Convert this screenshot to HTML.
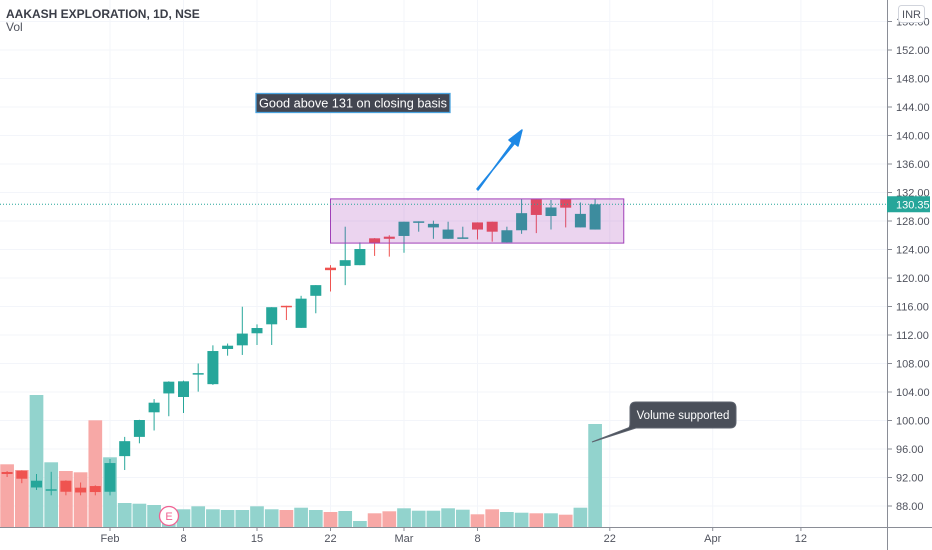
<!DOCTYPE html>
<html><head><meta charset="utf-8">
<style>
html,body{margin:0;padding:0;background:#fff;width:932px;height:550px;overflow:hidden;}
svg{display:block;font-family:"Liberation Sans",sans-serif;}
</style></head>
<body>
<svg id="chart" width="932" height="550" viewBox="0 0 932 550" xmlns="http://www.w3.org/2000/svg">
<rect width="932" height="550" fill="#fff"/>
<g id="grid"></g>
<g id="vols"></g>
<g id="candles"></g>
<g id="overlays"></g>
<g id="axes"></g>
</svg>
<script>
const dayIndex = [-7,-6,-5,-4,-3,-2,-1,0,1,2,3,4,5,6,7,8,9,10,11,12,13,14,15,16,17,18,19,20,21,22,23,24,25,26,27,28,29,30,31,32,33];
const opens  = [92.77,92.95,90.6,90.3,91.55,90.57,90.8,90.0,95.0,97.7,101.15,103.8,103.3,106.55,105.1,110.04,110.55,112.24,113.5,116.1,113.0,117.5,121.45,121.7,121.8,125.57,125.8,125.9,127.85,127.1,125.5,125.62,127.8,127.9,125.0,126.7,131.05,128.7,131.05,127.1,126.8];
const highs  = [92.9,93.0,92.5,92.8,91.6,91.3,90.9,94.6,97.7,100.1,103.0,105.5,105.6,108.0,110.55,110.8,115.97,113.5,115.9,116.1,117.5,119.0,121.8,127.2,125.0,125.6,126.0,127.9,127.95,128.05,127.9,127.2,127.8,127.9,127.2,131.05,131.05,130.95,131.05,130.6,131.05];
const lows   = [92.07,91.2,90.25,89.5,89.5,89.5,89.5,89.5,93.05,96.8,98.6,100.6,101.05,104.05,105.0,109.1,109.2,110.6,110.6,114.1,113.0,115.05,118.1,119.0,121.8,123.1,123.0,123.55,126.5,125.5,125.5,125.6,125.4,125.1,125.0,126.2,126.3,126.8,127.1,127.1,126.8];
const closes = [92.49,91.83,91.55,90.35,90.0,89.9,89.96,94.03,97.1,100.07,102.5,105.45,105.5,106.65,109.75,110.5,112.2,112.98,115.9,116.0,117.1,119.0,121.1,122.5,124.07,124.87,125.5,127.9,127.95,127.6,126.8,125.7,126.8,126.5,126.7,129.1,128.85,129.9,129.87,129.0,130.35];
const volumes = [62.7,57,132,64.7,56,54.7,106.7,69.7,24,23.3,22,18,17.7,20.7,17.7,17,17,20.7,17.7,17,19.3,17,15,16,6,13.7,15.7,18.7,16.3,16.3,18.7,17.3,12.7,17.7,15,14.3,13.7,13.7,12.3,19.3,103];
const priceTicks = [156,152,148,144,140,136,132,128,124,120,116,112,108,104,100,96,92,88];
const dateLabels = ["Feb","8","15","22","Mar","8","22","Apr","12"];
const dateIndex  = [0,5,10,15,20,25,34,41,47];
const boxRange = {i0:15, i1:34.95, top:131.1, bottom:124.9};
const lastPrice = 130.35;

const NS="http://www.w3.org/2000/svg";
const X0=110, SP=14.7, AXX=887, AXY=527;
const xScale = i => X0 + i*SP;
const yScale = p => 50 + (152-p)*7.125;
const vScale = v => AXY - v;
function mk(tag, attrs, parent){const e=document.createElementNS(NS,tag);for(const k in attrs)e.setAttribute(k,attrs[k]);parent.appendChild(e);return e;}
const grid=document.getElementById('grid'), vols=document.getElementById('vols'), cg=document.getElementById('candles'), ov=document.getElementById('overlays'), ax=document.getElementById('axes');

priceTicks.forEach(p=>{
  const l=mk('line',{x1:0,x2:AXX,y1:yScale(p),y2:yScale(p),stroke:'#f3f5fa','stroke-width':1},grid);
  
  
});
dateIndex.forEach(i=>{
  const l=mk('line',{x1:xScale(i),x2:xScale(i),y1:0,y2:AXY,stroke:'#f3f5fa','stroke-width':1},grid);
  
  
});

dayIndex.forEach((d,k)=>{
  const up = closes[k]>=opens[k];
  const x=xScale(d);
  const vb=mk('rect',{x:x-6.85,y:vScale(volumes[k]),width:13.7,height:AXY-vScale(volumes[k]),fill:up?'#92d3cd':'#f7a8a6'},vols);
  
  
  const col=up?'#26a69a':'#ef5350';
  const g=mk('g',{},cg);
  
  
  mk('line',{x1:x,x2:x,y1:yScale(highs[k]),y2:yScale(lows[k]),stroke:col,'stroke-width':1},g);
  const t=Math.min(yScale(opens[k]),yScale(closes[k]));
  const h=Math.max(1.5,Math.abs(yScale(opens[k])-yScale(closes[k])));
  mk('rect',{x:x-5.5,y:t,width:11,height:h,fill:col},g);
});

// earnings marker
const eg=mk('g',{},ov);


mk('circle',{cx:169,cy:516,r:9.5,fill:'#fff',stroke:'#f06292','stroke-width':1.3},eg);
const et=mk('text',{x:169,y:520,'text-anchor':'middle','font-size':11,fill:'#f06292'},eg);et.textContent='E';

// box
const bx=mk('rect',{x:xScale(boxRange.i0),y:yScale(boxRange.top),width:xScale(boxRange.i1)-xScale(boxRange.i0),height:yScale(boxRange.bottom)-yScale(boxRange.top),fill:'rgba(156,39,176,0.2)',stroke:'#a040b8','stroke-width':1},ov);



// last price line
const lp=mk('line',{x1:0,x2:AXX,y1:yScale(lastPrice),y2:yScale(lastPrice),stroke:'#26a69a','stroke-width':1,'stroke-dasharray':'1 2'},ov);



// text annotation
const ta=mk('g',{},ov);


mk('rect',{x:256,y:93.5,width:194,height:19,fill:'#434651',stroke:'#4aa3df','stroke-width':1.3},ta);
const tt=mk('text',{x:259,y:107.5,'font-size':12.5,fill:'#fff',textLength:188,lengthAdjust:'spacingAndGlyphs'},ta);tt.textContent='Good above 131 on closing basis';

// arrow
const ar=mk('polygon',{points:'477,189 514,144 509,140 522,130 518,146 513,142 478,190',fill:'#1e88e5',stroke:'#1e88e5','stroke-width':1.5,'stroke-linejoin':'round'},ov);



// callout
const cb=mk('g',{},ov);


mk('path',{d:'M636,402 H730 Q736,402 736,408 V422 Q736,428 730,428 H636 L592,442 L628,428 Q630,428 630,422 V408 Q630,402 636,402 Z',fill:'#4a4f59',stroke:'#5d636e','stroke-width':1},cb);
const ct=mk('text',{x:683,y:419,'text-anchor':'middle','font-size':11.5,fill:'#fff'},cb);ct.textContent='Volume supported';

// axes
const ya=mk('line',{x1:AXX+0.5,x2:AXX+0.5,y1:0,y2:550,stroke:'#8a8d96','stroke-width':1},ax);


const xa=mk('line',{x1:0,x2:932,y1:AXY+0.5,y2:AXY+0.5,stroke:'#8a8d96','stroke-width':1},ax);


priceTicks.forEach(p=>{
  const y=yScale(p);
  mk('line',{x1:AXX,x2:AXX+5,y1:y,y2:y,stroke:'#8a8d96'},ax);
  const t=mk('text',{x:896,y:y+4,'font-size':11,fill:'#50535e'},ax);
  
  
  t.textContent=p.toFixed(2);
});
dateLabels.forEach((s,k)=>{
  const x=xScale(dateIndex[k]);
  mk('line',{x1:x,x2:x,y1:AXY,y2:AXY+4,stroke:'#8a8d96'},ax);
  const t=mk('text',{x:x,y:542,'text-anchor':'middle','font-size':11,fill:'#50535e'},ax);
  
  
  t.textContent=s;
});
// last price badge
const lb=mk('g',{},ax);


mk('rect',{x:AXX,y:yScale(lastPrice)-8,width:43,height:16,fill:'#26a69a'},lb);
const lt=mk('text',{x:896,y:yScale(lastPrice)+4,'font-size':11,fill:'#fff'},lb);lt.textContent=lastPrice.toFixed(2);
// INR
const ib=mk('g',{},ax);


mk('rect',{x:898.5,y:5.5,width:26,height:17,rx:3,fill:'#fff',stroke:'#d1d4dc'},ib);
const it=mk('text',{x:911.5,y:18,'text-anchor':'middle','font-size':11,fill:'#50535e'},ib);it.textContent='INR';
// title
const ti=mk('text',{x:6,y:18,'font-size':12,'font-weight':'bold',fill:'#3a3d47'},ax);


ti.textContent='AAKASH EXPLORATION, 1D, NSE';
const vl=mk('text',{x:6,y:31,'font-size':12,fill:'#50535e'},ax);


vl.textContent='Vol';
</script>
</body></html>
